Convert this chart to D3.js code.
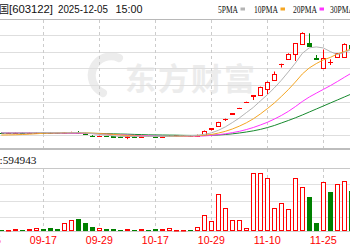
<!DOCTYPE html>
<html>
<head>
<meta charset="utf-8">
<script src="https://cdn.jsdelivr.net/npm/d3@7"></script>
<style>
  body { margin: 0; background: #fff; }
  svg { display: block; }
</style>
</head>
<body>
<div id="chart"></div>
<script>
// trading days shown in the window (11-19..11-21 suspended)
const dates = [
  "09-09","09-10","09-11","09-12","09-15","09-16","09-17","09-18","09-19","09-22",
  "09-23","09-24","09-25","09-26","09-29","09-30","10-09","10-10","10-13","10-14",
  "10-15","10-16","10-17","10-20","10-21","10-22","10-23","10-24","10-27","10-28",
  "10-29","10-30","10-31","11-03","11-04","11-05","11-06","11-07","11-10","11-11",
  "11-12","11-13","11-14","11-17","11-18","11-24","11-25","11-26","11-27","11-28",
  "12-01"
];
const open = [
  9.05, 9.00, 9.02, 9.06, 9.01, 9.03, 9.08, 9.05, 9.00, 8.95,
  9.09, 9.11, 9.00, 8.70, 8.58, 8.64, 8.59, 8.57, 8.54, 8.60,
  8.57, 8.62, 8.58, 8.56, 8.62, 8.68, 8.71, 8.75, 8.70, 8.80,
  9.50, 9.90, 10.68, 11.33, 11.98, 12.76, 13.49, 13.56, 14.22, 15.36,
  17.29, 17.84, 18.54, 19.74, 19.80, 18.02, 16.76, 17.48, 18.12, 18.12,
  19.56
];
const high = [
  9.07, 9.05, 9.08, 9.07, 9.06, 9.10, 9.09, 9.07, 9.02, 9.12,
  9.15, 9.24, 9.02, 8.74, 8.66, 8.65, 8.62, 8.59, 8.62, 8.61,
  8.63, 8.63, 8.59, 8.63, 8.69, 8.72, 8.76, 8.76, 8.80, 9.30,
  9.56, 10.34, 10.73, 11.38, 12.02, 12.76, 13.51, 14.56, 15.18, 16.38,
  17.32, 18.56, 19.80, 21.08, 20.96, 18.36, 19.02, 17.84, 18.60, 19.76,
  20.16
];
const low = [
  8.98, 8.98, 9.00, 9.00, 8.99, 9.02, 9.03, 8.98, 8.95, 8.93,
  9.07, 9.00, 8.82, 8.56, 8.56, 8.57, 8.55, 8.52, 8.26, 8.55,
  8.55, 8.56, 8.54, 8.55, 8.61, 8.66, 8.70, 8.68, 8.69, 8.76,
  9.30, 9.84, 10.44, 11.22, 11.93, 12.76, 12.96, 13.44, 13.68, 15.30,
  16.86, 17.76, 17.64, 19.68, 19.38, 17.81, 16.73, 17.16, 18.00, 18.06,
  18.96
];
const close = [
  9.00, 9.02, 9.06, 9.01, 9.04, 9.08, 9.05, 9.00, 8.96, 9.09,
  9.13, 9.02, 8.84, 8.60, 8.64, 8.59, 8.57, 8.54, 8.60, 8.57,
  8.62, 8.58, 8.56, 8.62, 8.68, 8.71, 8.75, 8.70, 8.78, 9.26,
  9.56, 10.32, 10.70, 11.38, 12.02, 12.76, 13.51, 14.52, 15.14, 16.14,
  17.32, 18.54, 19.76, 21.06, 19.44, 17.84, 17.96, 17.52, 18.56, 19.74,
  19.20
];
const volume = [
  15000, 15000, 20000, 15000, 20000, 27000, 20000, 30000, 20000, 83000,
  110000, 120000, 80000, 45000, 30000, 20000, 20000, 15000, 20000, 15000,
  20000, 15000, 20000, 20000, 30000, 15000, 15000, 15000, 40000, 160000,
  100000, 370000, 230000, 110000, 110000, 30000, 580000, 580000, 530000, 230000,
  280000, 220000, 530000, 440000, 340000, 80000, 490000, 390000, 470000, 500000,
  400000
];
const ma5 = [
  9.02, 9.02, 9.02, 9.02, 9.02, 9.05, 9.05, 9.04, 9.02, 9.02,
  9.04, 9.04, 9.00, 8.93, 8.84, 8.74, 8.65, 8.59, 8.59, 8.58,
  8.59, 8.58, 8.58, 8.59, 8.60, 8.63, 8.66, 8.69, 8.72, 8.84,
  9.01, 9.32, 9.73, 10.25, 10.80, 11.44, 12.07, 12.84, 13.58, 14.41,
  15.32, 16.33, 17.38, 18.56, 19.22, 19.33, 19.21, 18.77, 18.42, 18.66,
  19.02
];
const ma10 = [
  8.76, 8.77, 8.79, 8.82, 8.86, 8.91, 8.96, 8.99, 9.01, 9.03,
  9.04, 9.04, 9.01, 8.98, 8.93, 8.88, 8.83, 8.76, 8.70, 8.65,
  8.62, 8.59, 8.58, 8.58, 8.59, 8.60, 8.62, 8.64, 8.66, 8.74,
  8.82, 8.99, 9.20, 9.48, 9.82, 10.22, 10.70, 11.28, 11.92, 12.60,
  13.38, 14.20, 15.11, 16.08, 16.81, 17.33, 17.77, 18.07, 18.48, 18.78,
  19.08
];
const ma20 = [
  9.02, 9.02, 9.02, 9.02, 9.02, 9.02, 9.01, 9.00, 8.99, 8.98,
  8.98, 8.96, 8.95, 8.93, 8.89, 8.86, 8.82, 8.78, 8.75, 8.71,
  8.68, 8.64, 8.62, 8.60, 8.59, 8.59, 8.59, 8.60, 8.62, 8.65,
  8.71, 8.80, 8.90, 9.04, 9.20, 9.41, 9.66, 9.96, 10.28, 10.67,
  11.10, 11.59, 12.16, 12.78, 13.32, 13.78, 14.23, 14.68, 15.17, 15.68,
  16.18
];
const ma30 = [
  8.99, 8.99, 8.99, 8.99, 8.99, 8.99, 8.99, 8.98, 8.98, 8.98,
  8.98, 8.98, 8.97, 8.96, 8.95, 8.93, 8.90, 8.88, 8.86, 8.83,
  8.81, 8.78, 8.77, 8.76, 8.75, 8.74, 8.72, 8.71, 8.71, 8.71,
  8.72, 8.76, 8.82, 8.90, 9.00, 9.12, 9.26, 9.43, 9.65, 9.90,
  10.20, 10.50, 10.82, 11.16, 11.52, 11.88, 12.24, 12.60, 12.96, 13.32,
  13.68
];
const axisDates = ["09-05", "09-17", "09-29", "10-17", "10-29", "11-10", "11-25"];
const gridPrices = [8.76, 10.76, 12.76, 14.76, 16.76, 18.76, 20.76];
const maNames = ["5PMA", "10PMA", "20PMA", "30PMA"];
const maColors = ["#b4b4b4", "#f5a623", "#ff33ff", "#178a2e"];
const lastVolume = "594943";

const W = 350, H = 250;
const RED = "#ff0000", GREEN = "#008000";

const svg = d3.select("#chart").append("svg")
  .attr("width", W).attr("height", H)
  .style("font-family", "'Liberation Sans', Arial, sans-serif");

svg.append("rect").attr("width", W).attr("height", H).attr("fill", "#fff");

const x = d3.scalePoint().domain(dates).range([1.3, 351.3]);
const step = x.step();
// 09-05 sits two sessions left of the first drawn candle
const xAt = (d) => (dates.includes(d) ? x(d) : x(dates[0]) - step * 2);
const y = d3.scaleLinear().domain([8.76, 20.76]).range([135, 35]);
const v = d3.scaleLinear().domain([0, 630000]).range([231, 168]);
const px = (n) => Math.round(n) + 0.5;

// watermark
const wm = svg.append("g").attr("fill", "#ececec");
wm.append("path")
  .attr("d", "M119,58 A19,19 0 0 0 103,93")
  .attr("fill", "none").attr("stroke", "#ececec")
  .attr("stroke-width", 8).attr("stroke-linecap", "round");
wm.append("text")
  .attr("x", 125).attr("y", 90)
  .attr("font-family", "'Noto Sans CJK SC', sans-serif")
  .attr("font-size", 31).attr("font-weight", "bold")
  .attr("letter-spacing", 2)
  .text("东方财富");

// frame lines
svg.append("line").attr("x1", 0).attr("x2", W).attr("y1", 19.5).attr("y2", 19.5)
  .attr("stroke", "#b8b8b8");
svg.append("line").attr("x1", 0).attr("x2", W).attr("y1", 149).attr("y2", 149)
  .attr("stroke", "#bdbdbd").attr("stroke-width", 2);
svg.append("line").attr("x1", 0).attr("x2", W).attr("y1", 168.5).attr("y2", 168.5)
  .attr("stroke", "#c8c8c8");
svg.append("line").attr("x1", 0).attr("x2", W).attr("y1", 231.5).attr("y2", 231.5)
  .attr("stroke", "#cccccc");

// price grid
svg.append("g").selectAll("line").data(gridPrices).enter().append("line")
  .attr("x1", 0).attr("x2", W)
  .attr("y1", (d) => px(y(d))).attr("y2", (d) => px(y(d)))
  .attr("stroke", "#dedede");

// volume grid (panel quarters)
const volGrid = d3.scaleLinear().domain([0, 4]).range([233, 168]);
svg.append("g").selectAll("line").data([1, 2, 3]).enter().append("line")
  .attr("x1", 0).attr("x2", W)
  .attr("y1", (d) => px(volGrid(d))).attr("y2", (d) => px(volGrid(d)))
  .attr("stroke", "#e0e0e0");

// dashed date lines
const vg = svg.append("g").attr("stroke", "#cccccc").attr("stroke-dasharray", "3,3");
axisDates.forEach((d) => {
  const xx = px(xAt(d));
  vg.append("line").attr("x1", xx).attr("x2", xx).attr("y1", 20).attr("y2", 148);
  vg.append("line").attr("x1", xx).attr("x2", xx).attr("y1", 169).attr("y2", 231);
});

// candles
const isUp = (i) =>
  close[i] > open[i] || (close[i] === open[i] && (i === 0 || close[i] >= close[i - 1]));
const cg = svg.append("g");
dates.forEach((d, i) => {
  const cx = px(x(d));
  const up = isUp(i);
  const col = up ? RED : GREEN;
  const top = px(Math.min(y(open[i]), y(close[i])));
  const bot = px(Math.max(y(open[i]), y(close[i])));
  const yh = y(high[i]), yl = y(low[i]);
  if (bot - top < 1) {
    cg.append("line").attr("x1", cx - 2.5).attr("x2", cx + 2.5)
      .attr("y1", top).attr("y2", top).attr("stroke", col);
    if (yh < top - 0.5) cg.append("line").attr("x1", cx).attr("x2", cx)
      .attr("y1", yh).attr("y2", top).attr("stroke", col);
    if (yl > top + 0.5) cg.append("line").attr("x1", cx).attr("x2", cx)
      .attr("y1", top).attr("y2", yl).attr("stroke", col);
  } else if (up) {
    cg.append("line").attr("x1", cx).attr("x2", cx).attr("y1", yh).attr("y2", top).attr("stroke", col);
    cg.append("line").attr("x1", cx).attr("x2", cx).attr("y1", bot).attr("y2", yl).attr("stroke", col);
    cg.append("rect").attr("x", cx - 2).attr("y", top).attr("width", 4)
      .attr("height", bot - top).attr("fill", "#fff").attr("stroke", col);
  } else {
    cg.append("line").attr("x1", cx).attr("x2", cx).attr("y1", yh).attr("y2", yl).attr("stroke", col);
    cg.append("rect").attr("x", cx - 2.5).attr("y", top - 0.5).attr("width", 5)
      .attr("height", bot - top + 1).attr("fill", col);
  }
});

// moving averages
const line = d3.line().x((d, i) => x(dates[i])).y((d) => y(d));
[ma30, ma20, ma10, ma5].forEach((s, j) => {
  svg.append("path").datum(s)
    .attr("d", line)
    .attr("fill", "none")
    .attr("stroke", maColors[3 - j])
    .attr("stroke-width", 1);
});

// volume bars, coloured against the previous close
const vgBars = svg.append("g");
dates.forEach((d, i) => {
  const cx = px(x(d));
  const rising = i === 0 ? close[i] >= open[i] : close[i] >= close[i - 1];
  const yt = Math.round(v(volume[i]));
  if (rising) {
    vgBars.append("rect").attr("x", cx - 2).attr("y", yt + 0.5)
      .attr("width", 4).attr("height", Math.max(0.5, 230.5 - (yt + 0.5)))
      .attr("fill", "#fff").attr("stroke", RED);
  } else {
    vgBars.append("rect").attr("x", cx - 2.5).attr("y", yt)
      .attr("width", 5).attr("height", 231 - yt).attr("fill", GREEN);
  }
});

// header
const hdr = svg.append("g").attr("font-size", 11).attr("fill", "#111");
hdr.append("text").attr("x", 9).attr("y", 12.5).attr("text-anchor", "end")
  .attr("font-family", "'Noto Sans CJK SC', sans-serif").attr("font-size", 10)
  .text("合富中国");
hdr.append("text").attr("x", 9).attr("y", 12.5)
  .attr("textLength", 44).attr("lengthAdjust", "spacingAndGlyphs").text("[603122]");
hdr.append("text").attr("x", 58).attr("y", 12.5)
  .attr("textLength", 50).attr("lengthAdjust", "spacingAndGlyphs").text("2025-12-05");
hdr.append("text").attr("x", 115.5).attr("y", 12.5)
  .attr("textLength", 27).attr("lengthAdjust", "spacingAndGlyphs").text("15:00");

// legend
const legX = [218, 254, 293, 330];
const legW = [20, 24, 24, 24];
const leg = svg.append("g").attr("font-family", "'Liberation Serif', serif").attr("font-size", 11);
maNames.forEach((n, i) => {
  leg.append("text").attr("x", legX[i]).attr("y", 12.5).attr("fill", "#111")
    .attr("textLength", legW[i]).attr("lengthAdjust", "spacingAndGlyphs").text(n);
  leg.append("rect").attr("x", legX[i] + legW[i] + 2.5).attr("y", 7.5)
    .attr("width", 4.5).attr("height", 3).attr("fill", maColors[i]);
});

// volume label
svg.append("text").attr("x", 0).attr("y", 164).attr("text-anchor", "end")
  .attr("font-family", "'Noto Sans CJK SC', sans-serif").attr("font-size", 11)
  .text("成交量");
svg.append("text").attr("x", -0.5).attr("y", 164)
  .attr("font-family", "'Liberation Serif', serif").attr("font-size", 11).attr("fill", "#111")
  .attr("textLength", 37).attr("lengthAdjust", "spacingAndGlyphs")
  .text(":" + lastVolume);

// date labels
svg.append("g").selectAll("text").data(axisDates).enter().append("text")
  .attr("x", (d) => xAt(d) - 13.5).attr("y", 244)
  .attr("font-size", 11)
  .style("fill", RED)
  .attr("textLength", 27).attr("lengthAdjust", "spacingAndGlyphs")
  .text((d) => d);
</script>
</body>
</html>
